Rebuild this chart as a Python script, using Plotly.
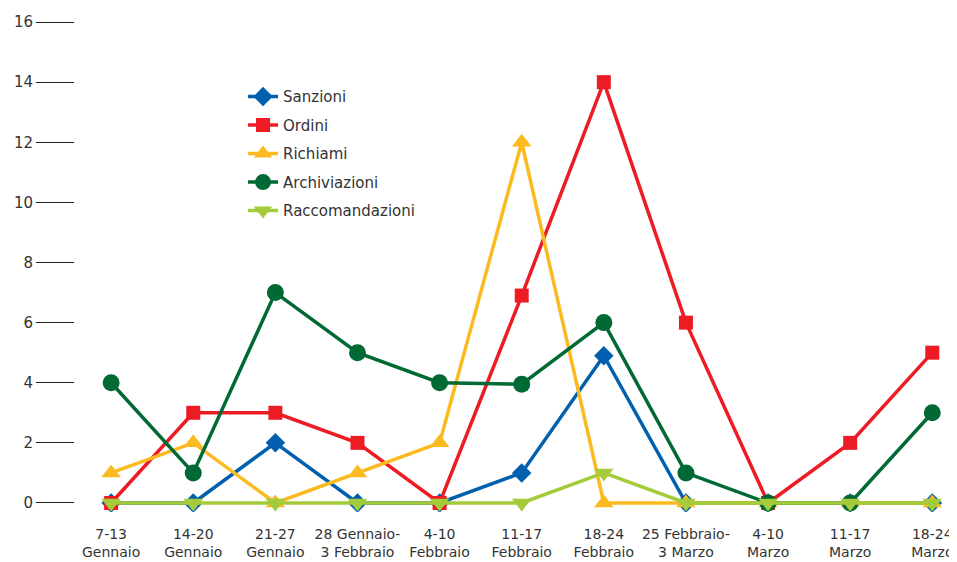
import plotly.graph_objects as go

categories = ["7-13<br>Gennaio", "14-20<br>Gennaio", "21-27<br>Gennaio", "28 Gennaio-<br>3 Febbraio",
              "4-10<br>Febbraio", "11-17<br>Febbraio", "18-24<br>Febbraio", "25 Febbraio-<br>3 Marzo",
              "4-10<br>Marzo", "11-17<br>Marzo", "18-24<br>Marzo"]
sanzioni = [0, 0, 2, 0, 0, 1, 4.9, 0, 0, 0, 0]
ordini = [0, 3, 3, 2, 0, 6.9, 14, 6, 0, 2, 5]
richiami = [1, 2, 0, 1, 2, 12, 0, 0, 0, 0, 0]
archiviazioni = [4, 1, 7, 5, 4, 3.95, 6, 1, 0, 0, 3]
raccomandazioni = [0, 0, 0, 0, 0, 0, 1, 0, 0, 0, 0]
y_ticks = [0, 2, 4, 6, 8, 10, 12, 14, 16]

series = [
    ("Sanzioni", sanzioni, "#0060AE", "diamond", 15),
    ("Ordini", ordini, "#ED1C24", "square", 14),
    ("Richiami", richiami, "#FBBA1F", "triangle-up", 17),
    ("Archiviazioni", archiviazioni, "#006934", "circle", 17),
    ("Raccomandazioni", raccomandazioni, "#A4CC3A", "triangle-down", 17),
]

xs = list(range(len(categories)))
fig = go.Figure()
for i, (name, vals, color, sym, size) in enumerate(series):
    fig.add_trace(go.Scatter(
        x=xs, y=vals, name=name, mode="lines+markers",
        line=dict(color=color, width=3.5),
        marker=dict(symbol=sym, size=size, color=color, line=dict(width=0)),
        legendgroup="g%d" % i,
    ))

fig.update_layout(
    width=949, height=554,
    margin=dict(l=67, r=5, t=5, b=50),
    paper_bgcolor="white", plot_bgcolor="white",
    font=dict(family="DejaVu Sans, Verdana, sans-serif", size=14, color="#333333"),
    showlegend=True,
    legend=dict(x=0.1916, y=0.865, xanchor="left", yanchor="top",
                bgcolor="rgba(0,0,0,0)", tracegroupgap=6,
                font=dict(size=15, color="#333333")),
    xaxis=dict(
        range=[-0.44, 10.24], tickmode="array", tickvals=xs, ticktext=categories,
        showgrid=False, zeroline=False, showline=False, ticks="",
        tickfont=dict(size=14, color="#333333"), ticklabelstandoff=12,
        automargin=False,
    ),
    yaxis=dict(
        range=[-0.3, 16.3], tickmode="array", tickvals=y_ticks,
        showgrid=False, zeroline=False, showline=False,
        ticks="outside", ticklen=38, tickwidth=1, tickcolor="#222222",
        tickfont=dict(size=15, color="#333333"), automargin=False,
    ),
)

fig.write_html("out.html")
